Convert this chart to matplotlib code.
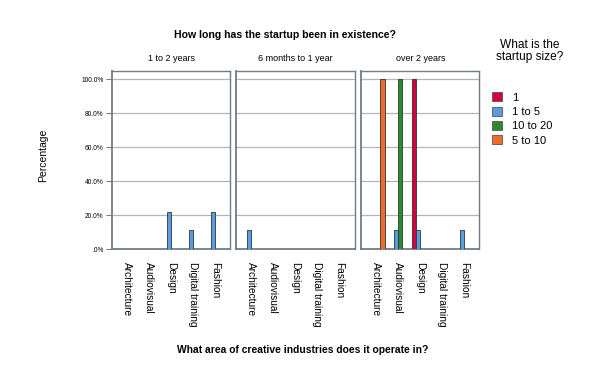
import numpy as np
import matplotlib
matplotlib.use("Agg")
import matplotlib.pyplot as plt
import matplotlib.transforms as mtrans
from matplotlib.patches import Patch

nan = np.nan

# data: percent of startups per creative area, by startup size, faceted by age
categories = ["Architecture", "Audiovisual", "Design", "Digital training", "Fashion"]
sizes = ["1", "1 to 5", "10 to 20", "5 to 10"]
panels = ["1 to 2 years", "6 months to 1 year", "over 2 years"]

# 1 to 2 years
p1_size1 = [nan, nan, nan, 0, 0]
p1_size1to5 = [nan, nan, 22.2, 11.1, 22.2]
p1_size10to20 = [nan, nan, 0, 0, nan]
p1_size5to10 = [nan, nan, 0, 0, nan]

# 6 months to 1 year
p2_size1 = [0, nan, nan, nan, nan]
p2_size1to5 = [11.1, nan, nan, nan, nan]
p2_size10to20 = [nan, nan, nan, nan, nan]
p2_size5to10 = [nan, nan, nan, nan, nan]

# over 2 years
p3_size1 = [nan, 0, 100, nan, nan]
p3_size1to5 = [nan, 11.1, 11.1, nan, 11.1]
p3_size10to20 = [0, 100, nan, nan, nan]
p3_size5to10 = [100, 0, nan, nan, nan]

panel_data = [
    [p1_size1, p1_size1to5, p1_size10to20, p1_size5to10],
    [p2_size1, p2_size1to5, p2_size10to20, p2_size5to10],
    [p3_size1, p3_size1to5, p3_size10to20, p3_size5to10],
]

colors = ["#d5003c", "#5b9be0", "#2b8a2b", "#f06a2a"]
spine_col = "#6e7d88"
font = "Liberation Sans"

fig = plt.figure(figsize=(5.93, 3.65), dpi=100)

lefts = [112 / 593, 236 / 593, 361 / 593]
width = 118.5 / 593
bottom = 1 - 249.3 / 365
height = (249.3 - 70.7) / 365

x = np.arange(len(categories))
w = 0.195
offsets = (np.arange(len(sizes)) - 1.5) * w
label_shift = mtrans.ScaledTranslation(-9 / 100, 0, fig.dpi_scale_trans)

for i, (name, series) in enumerate(zip(panels, panel_data)):
    ax = fig.add_axes([lefts[i], bottom, width, height])
    for k, vals in enumerate(series):
        ax.bar(x + offsets[k], vals, width=w, color=colors[k],
               edgecolor="#2a3540", linewidth=0.6, zorder=3)
    ax.set_xlim(-0.68, 4.68)
    ax.set_ylim(0, 105)
    ax.set_yticks([0, 20, 40, 60, 80, 100])
    for yv in [20, 40, 60, 80, 100]:
        ax.axhline(yv, color="#b4b4b4", linewidth=0.9, zorder=1)
    for s in ax.spines.values():
        s.set_color(spine_col)
        s.set_linewidth(1.0)
    ax.spines["left"].set_linewidth(1.3)
    ax.spines["bottom"].set_linewidth(1.3)
    ax.set_xticks(x)
    ax.set_xticklabels(categories, rotation=270, fontsize=7.3,
                       family=font, va="top", ha="center")
    for lab in ax.get_xticklabels():
        lab.set_transform(lab.get_transform() + label_shift)
    ax.tick_params(axis="x", length=0, pad=9)
    if i == 0:
        ax.set_yticklabels([".0%", "20.0%", "40.0%", "60.0%", "80.0%", "100.0%"],
                           fontsize=4.8, family=font)
        ax.tick_params(axis="y", length=4, color=spine_col, width=0.8, pad=2)
    else:
        ax.tick_params(axis="y", length=0, labelleft=False)
    ax.set_title(name, fontsize=6.5, family=font, pad=7)

fig.text(285 / 593, 1 - 35 / 365, "How long has the startup been in existence?",
         ha="center", va="center", fontsize=7.6, fontweight="bold", family=font)
fig.text(303 / 593, 1 - 350 / 365, "What area of creative industries does it operate in?",
         ha="center", va="center", fontsize=7.4, fontweight="bold", family=font)
fig.text(43 / 593, 1 - 155 / 365, "Percentage", rotation=90, ha="center",
         va="center", fontsize=7.5, family=font)
fig.text(530 / 593, 1 - 51 / 365, "What is the\nstartup size?", ha="center",
         va="center", fontsize=8.6, family=font, linespacing=1.05)

handles = [Patch(facecolor=c, edgecolor="#555555", linewidth=0.6) for c in colors]
fig.legend(handles, sizes, loc="upper left", bbox_to_anchor=(490 / 593, 1 - 90 / 365),
           frameon=False, prop={"family": font, "size": 8},
           handlelength=0.9, handleheight=0.9, handletextpad=0.9, labelspacing=0.35,
           borderaxespad=0, borderpad=0.2)

fig.savefig("out.png", dpi=100)
